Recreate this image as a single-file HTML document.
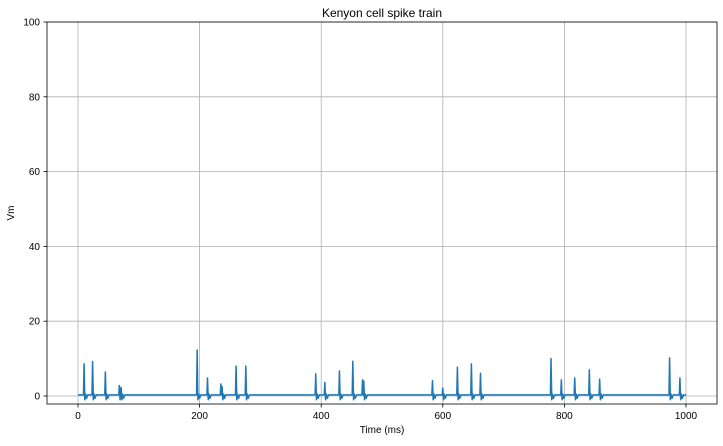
<!DOCTYPE html>
<html><head><meta charset="utf-8"><style>
body{margin:0;background:#fff;font-family:"Liberation Sans",sans-serif;}
svg text{font-family:"Liberation Sans",sans-serif;fill:#000;}
</style></head><body>
<svg id="chart" width="723" height="441" xmlns="http://www.w3.org/2000/svg">
<rect width="723" height="441" fill="#fff"/>
<g id="grid"></g>
<path id="series" fill="none" stroke="#1f77b4" stroke-width="1.5" stroke-linejoin="round"/>
<rect x="47" y="22" width="670" height="382" fill="none" stroke="#000" stroke-width="0.8"/>
<g id="ticks"></g>
<text x="382" y="17" text-anchor="middle" font-size="12">Kenyon cell spike train</text>
<text x="382" y="433" text-anchor="middle" font-size="10">Time (ms)</text>
<text transform="translate(14,213) rotate(-90)" text-anchor="middle" font-size="10">Vm</text>
</svg>
<script>
const spikeTimes=[10,24,45,68,71,196,213,235,237,260,276,391,406,430,452,468,470,583,600,624,647,662,778,795,817,841,858,973,990];
const spikeHeights=[8.6,9.2,6.4,2.8,2.3,12.3,4.8,3.2,2.5,8,8,5.9,3.6,6.7,9.3,4.3,4,4.1,2.1,7.7,8.6,6.1,10,4.3,4.8,7,4.5,10.2,4.8];
const xTicks=[0,200,400,600,800,1000];
const yTicks=[0,20,40,60,80,100];
const baseline=0.3;
const X=t=>78+(t)*(686-78)/1000;
const Y=v=>396-v*3.74;
const NS="http://www.w3.org/2000/svg";
const grid=document.getElementById('grid'),ticks=document.getElementById('ticks');
function mk(tag,attrs,parent){const e=document.createElementNS(NS,tag);for(const k in attrs)e.setAttribute(k,attrs[k]);parent.appendChild(e);return e;}
xTicks.forEach(t=>{
 const g=mk('line',{x1:X(t),x2:X(t),y1:22,y2:404,stroke:'#b0b0b0','stroke-width':0.8},grid);
 
 
 mk('line',{x1:X(t),x2:X(t),y1:404,y2:407.5,stroke:'#000','stroke-width':0.8},ticks);
 const l=mk('text',{x:X(t),y:419,'text-anchor':'middle','font-size':10},ticks);
 l.textContent=t;
 
 
});
yTicks.forEach(v=>{
 const g=mk('line',{x1:47,x2:717,y1:Y(v),y2:Y(v),stroke:'#b0b0b0','stroke-width':0.8},grid);
 
 
 mk('line',{x1:43.5,x2:47,y1:Y(v),y2:Y(v),stroke:'#000','stroke-width':0.8},ticks);
 const l=mk('text',{x:40,y:Y(v)+3.5,'text-anchor':'end','font-size':10},ticks);
 l.textContent=v;
 
 
});
// build trace from spike arrays (spike template offsets)
const tmplDt=[-1,0,1.2,2.5,4,6];
const tmplV=[null,'peak',-1.0,0.5,-0.6,null];
let pts=[[0,baseline]];
spikeTimes.forEach((t,i)=>{
 const next=i+1<spikeTimes.length?spikeTimes[i+1]:1e9;
 const prevT=pts[pts.length-1][0];
 tmplDt.forEach((d,k)=>{
  const tt=t+d;
  if(tt<=prevT) return;
  if(k>1 && tt>=next-1) return;
  const v=tmplV[k]==='peak'?spikeHeights[i]:(tmplV[k]===null?baseline:tmplV[k]);
  pts.push([tt,v]);
 });
});
pts.push([1000,baseline]);
document.getElementById('series').setAttribute('d',pts.map((p,i)=>(i?'L':'M')+X(p[0]).toFixed(2)+','+Y(p[1]).toFixed(2)).join(''));
</script>
</body></html>
